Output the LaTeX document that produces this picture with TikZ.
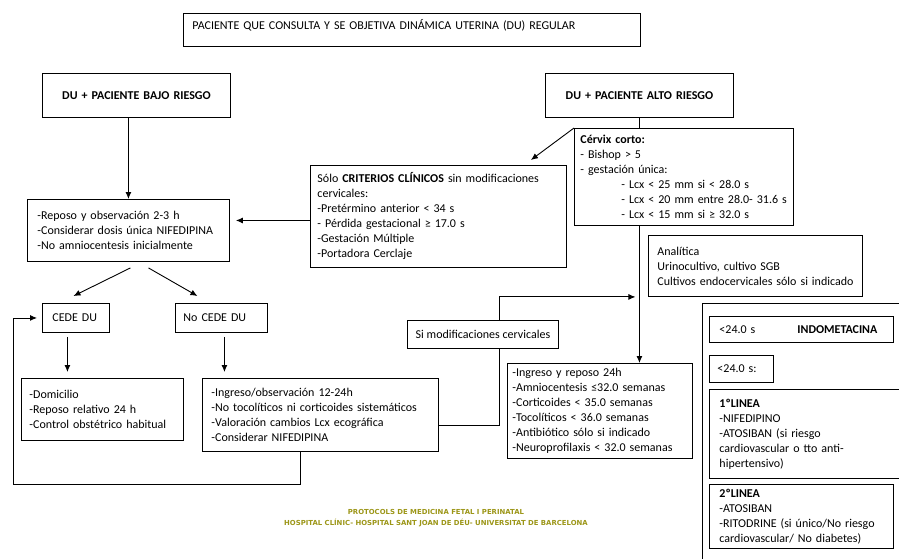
\documentclass[tikz,border=0pt]{standalone}
\usepackage{fontspec}
\setmainfont{Carlito}
\newfontfamily\footfont{DejaVu Sans}
\usepackage{tikz}
\usetikzlibrary{arrows.meta}
\definecolor{footolive}{RGB}{156,150,24}

\begin{document}
\begin{tikzpicture}[x=1pt, y=-1pt, >={Latex[length=7pt,width=6pt]}, line width=0.9pt,
    box/.style={rectangle, draw, anchor=north west, align=left, inner ysep=0pt},
    font=\fontsize{12}{15}\selectfont]
    \useasboundingbox (0,0) rectangle (899,558);
    \clip (0,0) rectangle (899,558);

    \node (consulta) [box, minimum width=457pt, minimum height=33pt, text width=439pt, text depth=10pt, inner xsep=9pt] at (183,13) {PACIENTE QUE CONSULTA Y SE OBJETIVA DINÁMICA UTERINA (DU) REGULAR};
    \node (bajo) [box, minimum width=188pt, minimum height=44pt, text width=180pt, inner xsep=4pt, align=center, font=\fontsize{12}{15}\selectfont\bfseries] at (42,73) {DU + PACIENTE BAJO RIESGO};
    \node (alto) [box, minimum width=188pt, minimum height=44pt, text width=180pt, inner xsep=4pt, align=center, font=\fontsize{12}{15}\selectfont\bfseries] at (545,73) {DU + PACIENTE ALTO RIESGO};
    \node (reposo) [box, minimum width=202pt, minimum height=62pt, text width=182pt, inner xsep=10pt] at (27,199) {-Reposo y observación 2-3 h\\-Considerar dosis única NIFEDIPINA\\-No amniocentesis inicialmente};
    \node (criterios) [box, minimum width=256pt, minimum height=102pt, text width=242pt, inner xsep=7pt] at (310,165) {Sólo \textbf{CRITERIOS CLÍNICOS} sin modificaciones\\cervicales:\\-Pretérmino anterior < 34 s\\- Pérdida gestacional ≥ 17.0 s\\-Gestación Múltiple\\-Portadora Cerclaje};
    \node (cervix) [box, minimum width=219pt, minimum height=97pt, text width=207pt, inner xsep=6pt] at (574,128) {\textbf{Cérvix corto:}\\- Bishop > 5\\- gestación única:\\\hspace*{41pt}\mbox{- Lcx < 25 mm si < 28.0 s}\\\hspace*{41pt}\mbox{- Lcx < 20 mm entre 28.0- 31.6 s}\\\hspace*{41pt}\mbox{- Lcx < 15 mm si ≥ 32.0 s}};
    \node (analitica) [box, minimum width=214pt, minimum height=61pt, text width=196pt, inner xsep=9pt] at (648,235) {Analítica\\Urinocultivo, cultivo SGB\\Cultivos endocervicales sólo si indicado};
    \node (simod) [box, minimum width=151pt, minimum height=28pt, align=center] at (407,320) {Si modificaciones cervicales};
    \node (cede) [box, minimum width=67pt, minimum height=29pt, text width=47pt, inner xsep=10pt] at (42,303) {CEDE DU};
    \node (nocede) [box, minimum width=92pt, minimum height=29pt, text width=76pt, inner xsep=8pt] at (175,303) {No CEDE DU};
    \node (domicilio) [box, minimum width=162pt, minimum height=62pt, text width=146pt, inner xsep=8pt] at (21,378) {-Domicilio\\-Reposo relativo 24 h\\-Control obstétrico habitual};
    \node (ingresoobs) [box, minimum width=236pt, minimum height=73pt, text width=218pt, inner xsep=9pt] at (202,378) {-Ingreso/observación 12-24h\\-No tocolíticos ni corticoides sistemáticos\\-Valoración cambios Lcx ecográfica\\-Considerar NIFEDIPINA};
    \node (ingrrep) [box, minimum width=185pt, minimum height=95pt, text width=175pt, inner xsep=5pt] at (507,363) {-Ingreso y reposo 24h\\-Amniocentesis ≤32.0 semanas\\-Corticoides < 35.0 semanas\\-Tocolíticos < 36.0 semanas\\-Antibiótico sólo si indicado\\-Neuroprofilaxis < 32.0 semanas};

    \node (tocolisis) [box, minimum width=220pt, minimum height=270pt] at (702,303) {};
    \node (indo) [box, minimum width=184pt, minimum height=26pt, text width=164pt, inner xsep=10pt] at (709,316) {<24.0 s\hspace*{42pt}\textbf{INDOMETACINA}};
    \node (menos) [box, minimum width=64pt, minimum height=27pt, text width=48pt, inner xsep=8pt] at (709,355) {<24.0 s:};
    \node (linea1) [box, minimum width=200pt, minimum height=89pt, text width=180pt, inner xsep=10pt] at (709,389) {\textbf{1ºLINEA}\\-NIFEDIPINO\\-ATOSIBAN (si riesgo\\cardiovascular o tto anti-\\hipertensivo)};
    \node (linea2) [box, minimum width=184pt, minimum height=64pt, text width=164pt, inner xsep=10pt] at (709,484) {\textbf{2ºLINEA}\\-ATOSIBAN\\-RITODRINE (si único/No riesgo\\cardiovascular/ No diabetes)};

    \node (footer) [text=footolive, align=center, font=\footfont\bfseries\fontsize{6.9}{11}\selectfont] at (436,518) {PROTOCOLS DE MEDICINA FETAL I PERINATAL\\HOSPITAL CLÍNIC- HOSPITAL SANT JOAN DE DÉU- UNIVERSITAT DE BARCELONA};

    \coordinate (critin) at ([yshift=-4pt]criterios.west);
    \coordinate (cedeout) at ([xshift=-8.5pt,yshift=-4pt]cede.south);
    \coordinate (nocedeout) at ([xshift=3pt,yshift=-4pt]nocede.south);
    \coordinate (loopleft) at (13,484);

    \draw [->] (reposo.north |- bajo.south) -- (reposo.north);
    \draw (alto.south) -- (alto.south |- cervix.north);
    \draw [->] (alto.south |- cervix.south) -- (alto.south |- ingrrep.north);
    \draw [->] (cervix.north west) -- ([xshift=-36pt,yshift=5pt]criterios.north east);
    \draw [->, shorten >=6pt] (critin) -- (critin -| reposo.east);
    \draw [->] ([xshift=2pt,yshift=-6pt]reposo.south) -- ([xshift=-2.5pt,yshift=7pt]cede.north);
    \draw [->] ([xshift=20pt,yshift=-6pt]reposo.south) -- ([xshift=-24pt,yshift=7pt]nocede.north);
    \draw [->, shorten >=6pt] (cedeout) -- (cedeout |- domicilio.north);
    \draw [->, shorten >=6pt] (nocedeout) -- (nocedeout |- ingresoobs.north);
    \draw [->, shorten >=5pt] ([xshift=-20pt]ingresoobs.south) |- (loopleft) |- (cede.west);
    \draw ([yshift=-10pt]ingresoobs.east) -| ([xshift=16pt]simod.south);
    \draw [->, shorten >=4pt] ([xshift=16pt]simod.north) |- (alto.south |- analitica.south);
\end{tikzpicture}
\end{document}
